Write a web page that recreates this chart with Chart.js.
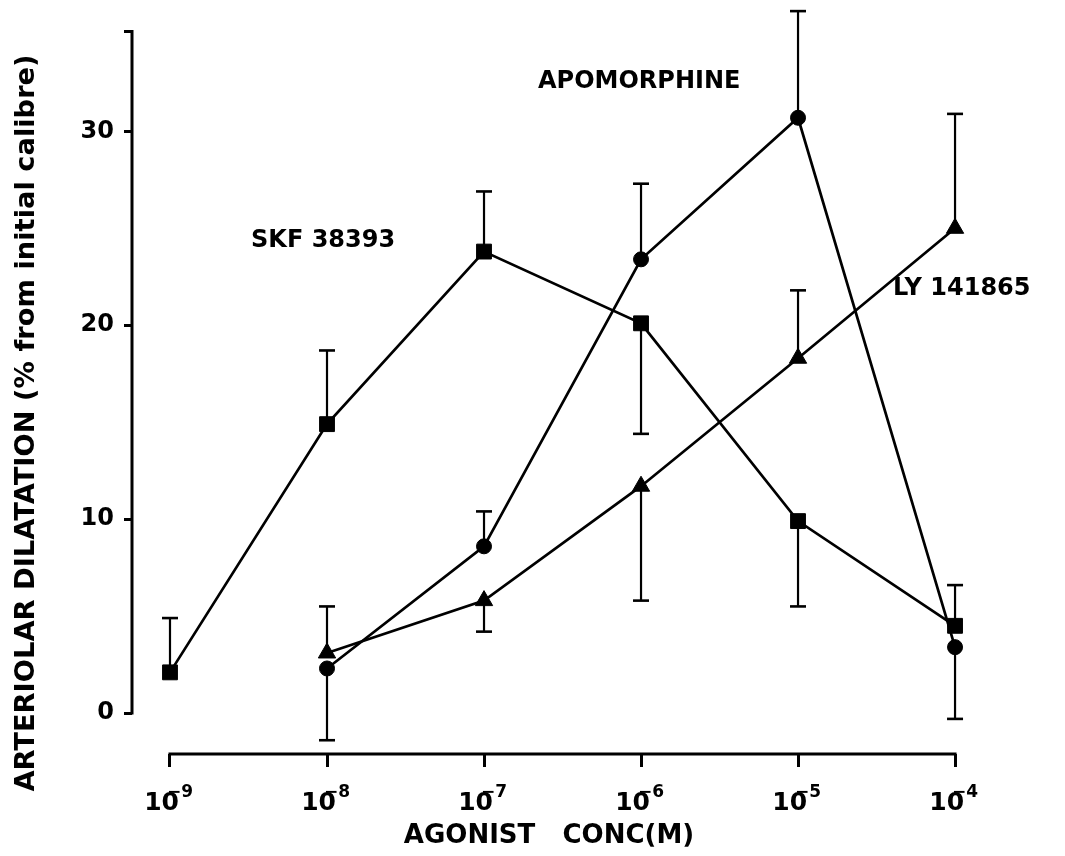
<!DOCTYPE html>
<html>
<head>
<meta charset="utf-8">
<script src="https://cdn.jsdelivr.net/npm/chart.js@4.4.1/dist/chart.umd.min.js"></script>
<style>
  html, body { margin: 0; padding: 0; background: #fff; }
  canvas { display: block; }
</style>
</head>
<body>
<canvas id="c" width="1065" height="856"></canvas>
<script>
// Agonist concentration as log10(M)
const concExponents = [-9, -8, -7, -6, -5, -4];
const yTickValues = [0, 10, 20, 30];

// SKF 38393 (squares): mean dilatation and the end of its one-sided SEM bar
const skfX    = [-9, -8, -7, -6, -5, -4];
const skfMean = [2.1, 14.9, 23.8, 20.1, 9.9, 4.5];
const skfErr  = [4.9, 18.7, 26.9, 14.4, 5.5, 6.6];

// Apomorphine (circles)
const apoX    = [-8, -7, -6, -5, -4];
const apoMean = [2.3, 8.6, 23.4, 30.7, 3.4];
const apoErr  = [-1.4, 10.4, 27.3, 36.2, -0.3];

// LY 141865 (triangles)
const lyX    = [-8, -7, -6, -5, -4];
const lyMean = [3.1, 5.8, 11.7, 18.3, 25.0];
const lyErr  = [5.5, 4.2, 5.8, 21.8, 30.9];

const seriesNames = ['SKF 38393', 'APOMORPHINE', 'LY 141865'];
const xTitle = 'AGONIST   CONC(M)';
const yTitle = 'ARTERIOLAR DILATATION (% from initial calibre)';

const FONT = '"DejaVu Sans", Verdana, sans-serif';
const yAxisTop = 35.15;

function pts(xs, ys) { return xs.map((v, i) => ({ x: v, y: ys[i] })); }

function series(label, xs, ys, errs, style, radius) {
  return {
    label,
    data: pts(xs, ys),
    errEnds: errs,
    showLine: true,
    borderColor: '#000',
    borderWidth: 2.7,
    tension: 0,
    pointStyle: style,
    pointRadius: radius,
    pointBackgroundColor: '#000',
    pointBorderColor: '#000',
    pointBorderWidth: 1,
    clip: false
  };
}

// One-sided SEM bars with flat caps, drawn under the markers
const errorBars = {
  id: 'errorBars',
  beforeDatasetsDraw(chart) {
    const { ctx, scales: { x, y } } = chart;
    ctx.save();
    ctx.strokeStyle = '#000';
    chart.data.datasets.forEach(ds => {
      ds.data.forEach((p, i) => {
        const px = x.getPixelForValue(p.x);
        const py = y.getPixelForValue(p.y);
        const pe = y.getPixelForValue(ds.errEnds[i]);
        ctx.lineWidth = 2.2;
        ctx.beginPath();
        ctx.moveTo(px, py);
        ctx.lineTo(px, pe);
        ctx.stroke();
        ctx.lineWidth = 2.6;
        ctx.beginPath();
        ctx.moveTo(px - 8, pe);
        ctx.lineTo(px + 8, pe);
        ctx.stroke();
      });
    });
    ctx.restore();
  }
};

// Detached axis spines, power-of-ten tick labels, axis titles and curve names
const axisDecor = {
  id: 'axisDecor',
  afterDraw(chart) {
    const { ctx, chartArea, scales: { x, y } } = chart;
    ctx.save();
    ctx.strokeStyle = '#000';
    ctx.fillStyle = '#000';
    ctx.lineWidth = 3;

    const yx = chartArea.left;
    const yTop = y.getPixelForValue(yAxisTop);
    ctx.beginPath();
    ctx.moveTo(yx - 8, yTop);
    ctx.lineTo(yx, yTop);
    ctx.lineTo(yx, y.getPixelForValue(0) + 1.5);
    ctx.stroke();

    const xb = chartArea.bottom;
    ctx.beginPath();
    ctx.moveTo(x.getPixelForValue(concExponents[0]) - 1.5, xb);
    ctx.lineTo(x.getPixelForValue(concExponents[concExponents.length - 1]) + 1.5, xb);
    ctx.stroke();

    // 10 with a raised negative exponent
    concExponents.forEach(e => {
      const px = x.getPixelForValue(e);
      ctx.textBaseline = 'alphabetic';
      ctx.font = `bold 25px ${FONT}`;
      ctx.textAlign = 'right';
      ctx.fillText('10', px + 9, 810);
      ctx.font = `bold 17px ${FONT}`;
      ctx.textAlign = 'left';
      ctx.fillText('\u2212' + String(-e), px - 3, 797);
    });

    ctx.font = `bold 26px ${FONT}`;
    ctx.textAlign = 'center';
    ctx.textBaseline = 'alphabetic';
    ctx.fillText(xTitle, 549, 843);

    ctx.font = `bold 27.3px ${FONT}`;
    ctx.save();
    ctx.translate(34, 423);
    ctx.rotate(-Math.PI / 2);
    ctx.fillText(yTitle, 0, 0);
    ctx.restore();

    ctx.font = `bold 24px ${FONT}`;
    ctx.textAlign = 'left';
    ctx.fillText(seriesNames[0], 251, 247);
    ctx.fillText(seriesNames[1], 538, 88);
    ctx.fillText(seriesNames[2], 893, 295);
    ctx.restore();
  }
};

new Chart(document.getElementById('c'), {
  type: 'scatter',
  data: {
    datasets: [
      series(seriesNames[0], skfX, skfMean, skfErr, 'rect', 10.5),
      series(seriesNames[1], apoX, apoMean, apoErr, 'circle', 7.5),
      series(seriesNames[2], lyX, lyMean, lyErr, 'triangle', 10)
    ]
  },
  options: {
    responsive: false,
    devicePixelRatio: 1,
    animation: false,
    layout: { padding: { top: 0, right: 20, left: 0, bottom: 0 } },
    plugins: { legend: { display: false }, tooltip: { enabled: false } },
    scales: {
      x: {
        type: 'linear',
        min: -9.242,
        max: -3.427,
        afterFit(s) { s.height = 102; s.paddingLeft = 0; s.paddingRight = 0; },
        afterBuildTicks(s) { s.ticks = concExponents.map(v => ({ value: v })); },
        grid: { drawOnChartArea: false, drawTicks: true, tickLength: 13, tickWidth: 3, color: '#000' },
        border: { display: false },
        ticks: { display: false }
      },
      y: {
        min: -2.11,
        max: 36.18,
        afterFit(s) { s.width = 132; s.paddingTop = 0; s.paddingBottom = 0; },
        afterBuildTicks(s) { s.ticks = yTickValues.map(v => ({ value: v })); },
        grid: { drawOnChartArea: false, drawTicks: true, tickLength: 8, tickWidth: 3, color: '#000' },
        border: { display: false },
        ticks: {
          color: '#000',
          padding: 10,
          font: { family: FONT, size: 24, weight: 'bold' },
          callback: v => String(v)
        }
      }
    }
  },
  plugins: [errorBars, axisDecor]
});
</script>
</body>
</html>
